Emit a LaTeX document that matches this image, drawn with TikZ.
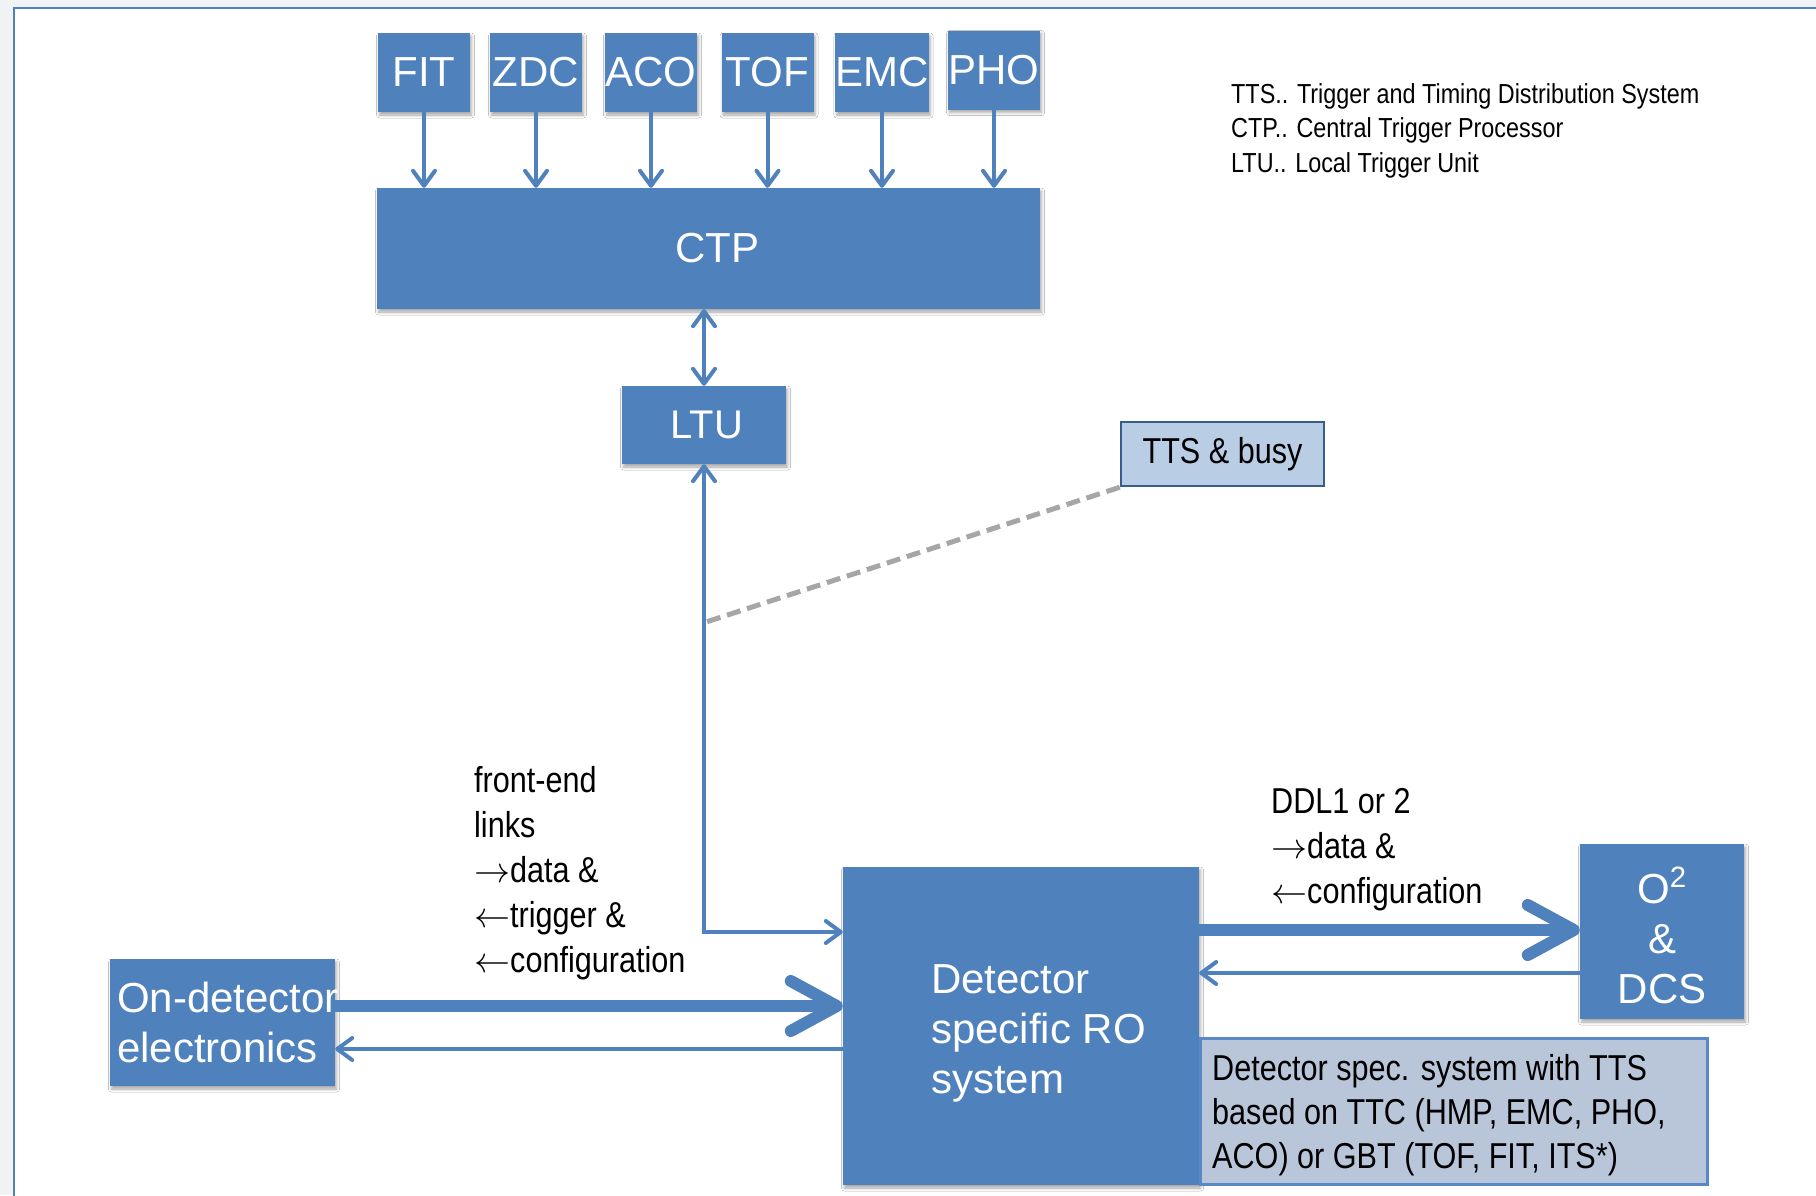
\documentclass[tikz,border=0pt]{standalone}
\usepackage{fix-cm}
\usepackage{fontspec}
\setmainfont{Liberation Sans}
\newfontfamily\narrowfont[FakeStretch=0.85]{Liberation Sans}
\usetikzlibrary{arrows.meta,shadows.blur,calc}

\definecolor{boxblue}{HTML}{4F81BD}
\definecolor{pagegray}{HTML}{F0F2F4}
\definecolor{ttsfill}{HTML}{B9CDE5}
\definecolor{ttsline}{HTML}{385D8A}
\definecolor{specfill}{HTML}{B9C6DA}
\definecolor{specline}{HTML}{5A87C5}
\definecolor{tapgray}{HTML}{A6A6A6}

\tikzset{
  thinbarb/.tip={Straight Barb[length=15pt,width=22pt,round]},
  fatbarb/.tip={Straight Barb[length=46pt,width=50pt,round]},
}
\newcommand{\ra}{$\rightarrow$}
\newcommand{\la}{$\leftarrow$}

\begin{document}
\begin{tikzpicture}[x=1pt,y=-1pt,
  box/.style={fill=boxblue, draw=none, text=white, inner sep=0pt,
    font=\fontsize{42}{50}\selectfont,
    blur shadow={shadow xshift=1.5pt, shadow yshift=-3pt, shadow blur radius=3pt, shadow opacity=35}},
  trigbox/.style={box, minimum width=92pt, minimum height=79pt},
  whitetext/.style={text=white, inner sep=0pt, align=left, font=\fontsize{42}{50}\selectfont},
  note/.style={text=black, inner sep=0pt, align=left, font=\fontsize{36}{45}\selectfont\narrowfont},
  legend/.style={text=black, inner sep=0pt, align=left, font=\fontsize{27.5}{34.5}\selectfont\narrowfont},
  ttsbox/.style={fill=ttsfill, draw=ttsline, line width=2.5pt, inner sep=0pt,
    minimum width=203pt, minimum height=64pt, font=\fontsize{36}{45}\selectfont\narrowfont},
  specbox/.style={fill=specfill, draw=specline, line width=3pt, inner sep=0pt,
    minimum width=507pt, minimum height=146pt},
  thinlink/.style={draw=boxblue, line width=4pt, -thinbarb},
  fatlink/.style={draw=boxblue, line width=12pt, -fatbarb},
  tapline/.style={draw=tapgray, line width=5pt, dash pattern=on 14pt off 7pt},
  frameline/.style={draw=boxblue, line width=2.5pt},
]
\useasboundingbox (0,0) rectangle (1816,1195);
% page background and frame
\fill[pagegray] (0,0) rectangle (1816,1195);
\fill[white] (14,8) rectangle (1830,1210);
\draw[frameline] (14,1210) -- (14,8) -- (1830,8);

% trigger detectors
\node[trigbox] (fit) at (424,72.5) {FIT};
\node[trigbox] (zdc) at (536,72.5) {ZDC};
\node[trigbox] (aco) at (651,72.5) {ACO};
\node[trigbox] (tof) at (767.5,72.5) {TOF};
\node[trigbox] (emc) at (882,72.5) {EMC};
\node[trigbox] (pho) at (994,70) {PHO};

% central trigger processor and local trigger unit
\node[box, minimum width=663pt, minimum height=121pt] (ctp) at (708.5,248.5) {\hspace*{18pt}CTP};
\node[box, minimum width=164pt, minimum height=78pt, font=\fontsize{40}{48}\selectfont] (ltu) at (704,425) {\hspace*{6pt}LTU};

\foreach \d in {fit,zdc,aco,tof,emc,pho}
  \draw[thinlink] (\d.south) -- (\d.south |- ctp.north);
\draw[thinlink, thinbarb-thinbarb] (ltu.north) -- (ltu.north |- ctp.south);

% legend (anchored on the baseline of its last line)
\node[legend, anchor=base west] (legend) at (1231,172)
  {TTS.. Trigger and Timing Distribution System\\CTP.. Central Trigger Processor\\LTU.. Local Trigger Unit};

% TTS & busy
\node[ttsbox] (tts) at (1222.5,454) {TTS \& busy};

% readout chain
\node[box, minimum width=356pt, minimum height=318pt] (det) at (1021,1026) {};
\node[whitetext, anchor=base west] (dettext) at (931,1093) {Detector\\specific RO\\system};

\node[box, minimum width=225pt, minimum height=127pt] (ond) at (222.5,1022.5) {};
\node[whitetext, anchor=base west] (ondtext) at (117,1062) {On-detector\\electronics};

\node[box, minimum width=164pt, minimum height=175pt] (o2) at (1662,931.5) {};
\node[whitetext, align=center, anchor=base] (o2text) at (1662,1003) {O\textsuperscript{2}\\\&\\DCS};

\node[specbox] (spec) at (1453.5,1111) {};
\node[note, anchor=base west, font=\fontsize{36}{44}\selectfont\narrowfont] (spectext) at (1212,1168)
  {Detector spec. system with TTS\\based on TTC (HMP, EMC, PHO,\\ACO) or GBT (TOF, FIT, ITS*)};

% link annotations
\node[note, anchor=base west] (felinks) at (474,972)
  {front-end\\links\\\ra data \&\\\la trigger \&\\\la configuration};
\node[note, anchor=base west] (ddl) at (1271,903)
  {DDL1 or 2\\\ra data \&\\\la configuration};

% connections
\coordinate (tap) at (703,623);
\draw[tapline] (tts.south west) -- (tap);
\draw[thinlink, thinbarb-thinbarb] (ltu.south) |- ([yshift=94pt]det.west);

\draw[fatlink] ([yshift=16.5pt]ond.east) -- ([yshift=16.5pt]ond.east -| det.west);
\draw[thinlink] ([yshift=-26.5pt]ond.east -| det.west) -- ([yshift=-26.5pt]ond.east);

\draw[fatlink] ([yshift=1.5pt]o2.west -| det.east) -- ([yshift=1.5pt]o2.west);
\draw[thinlink] ([yshift=-41.5pt]o2.west) -- ([yshift=-41.5pt]o2.west -| det.east);
\end{tikzpicture}
\end{document}
